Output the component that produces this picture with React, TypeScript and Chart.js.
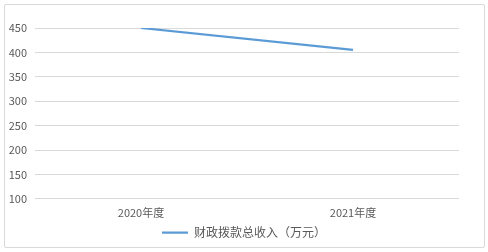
import React, { useEffect, useRef } from "react";
import { Chart, registerables } from "chart.js";

Chart.register(...registerables);

const categories = ["2020年度", "2021年度"];
const seriesName = "财政拨款总收入（万元）";
const seriesValues = [450, 405];
const yMin = 100;
const yMax = 450;
const yStep = 50;

const FONT = "'Noto Sans CJK SC', 'Noto Sans', sans-serif";
const TEXT_COLOR = "#595959";
const GRID_COLOR = "#d9d9d9";
const LINE_COLOR = "#5b9bd5";

export default function App() {
  const canvasRef = useRef<HTMLCanvasElement | null>(null);

  useEffect(() => {
    if (!canvasRef.current) return;
    const chart = new Chart(canvasRef.current, {
      type: "line",
      data: {
        labels: categories,
        datasets: [
          {
            label: seriesName,
            data: seriesValues,
            borderColor: LINE_COLOR,
            backgroundColor: LINE_COLOR,
            borderWidth: 2.25,
            pointRadius: 0,
            pointHoverRadius: 0,
            tension: 0,
            fill: false,
            yAxisID: "y",
          },
        ],
      },
      options: {
        animation: false,
        responsive: false,
        maintainAspectRatio: false,
        layout: { padding: { left: 0, right: 0, top: 28, bottom: 3.5 } },
        plugins: {
          tooltip: { enabled: false },
          legend: {
            display: true,
            position: "bottom",
            labels: {
              color: TEXT_COLOR,
              font: { family: FONT, size: 12 },
              usePointStyle: true,
              pointStyle: "line",
              pointStyleWidth: 26,
              boxHeight: 2,
              padding: 4,
            },
          },
        },
        scales: {
          x: {
            offset: true,
            grid: { display: false, drawTicks: false },
            border: { display: false },
            ticks: {
              color: TEXT_COLOR,
              font: { family: FONT, size: 11 },
              padding: 7,
              maxRotation: 0,
            },
            afterFit: (scale: any) => {
              scale.height = 23.7;
            },
          },
          y: {
            position: "left",
            min: yMin,
            max: yMax,
            grid: { color: GRID_COLOR, lineWidth: 1, drawTicks: false },
            border: { display: false },
            ticks: {
              stepSize: yStep,
              color: TEXT_COLOR,
              font: { family: FONT, size: 11 },
              padding: 8,
            },
            afterFit: (scale: any) => {
              scale.width = 35;
            },
          },
          yRight: {
            position: "right",
            min: yMin,
            max: yMax,
            grid: { display: false, drawTicks: false },
            border: { display: false },
            ticks: { display: false },
            afterFit: (scale: any) => {
              scale.width = 29;
            },
          },
        },
      },
    });
    return () => chart.destroy();
  }, []);

  return (
    <div
      style={{
        position: "fixed",
        left: 0,
        top: 0,
        width: 488,
        height: 252,
        background: "#ffffff",
      }}
    >
      <div
        style={{
          position: "absolute",
          left: 4,
          top: 4,
          width: 479,
          height: 242,
          border: `1px solid ${GRID_COLOR}`,
          borderRadius: 2,
        }}
      />
      <canvas
        ref={canvasRef}
        width={488}
        height={252}
        style={{ position: "absolute", left: 0, top: 0, width: 488, height: 252 }}
      />
    </div>
  );
}
